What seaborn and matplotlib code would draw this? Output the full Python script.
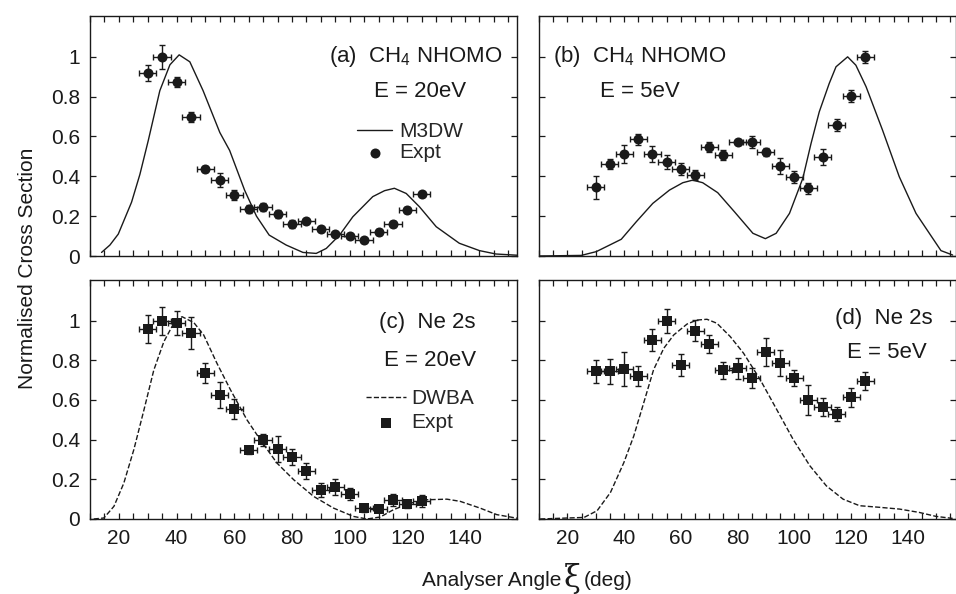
import numpy as np
import pandas as pd
import seaborn as sns
import matplotlib.pyplot as plt
from matplotlib.ticker import MultipleLocator, FixedLocator, FuncFormatter

# experimental angles (deg), common to all panels
angles = [30, 35, 40, 45, 50, 55, 60, 65, 70, 75, 80, 85, 90, 95, 100, 105, 110, 115, 120, 125]

# (a) CH4 NHOMO, E = 20 eV
a_expt = [0.92, 1.00, 0.872, 0.70, 0.435, 0.38, 0.306, 0.234, 0.247, 0.209,
          0.162, 0.174, 0.137, 0.112, 0.100, 0.080, 0.122, 0.160, 0.229, 0.313]
a_err = [0.04, 0.06, 0.025, 0.025, 0.015, 0.035, 0.025, 0.02, 0.02, 0.02,
         0.02, 0.01, 0.01, 0.01, 0.01, 0.01, 0.015, 0.015, 0.015, 0.01]
a_th_x = [14, 16.9, 19.8, 24.4, 27.3, 30.2, 34.2, 37.7, 40.9, 44.6, 49.2, 55, 58.4, 63.6, 67.7,
          72.1, 78, 83.8, 88.4, 91.9, 96.5, 101.1, 108, 112.1, 115.5, 119.6, 124.2, 130, 138,
          145, 150.7, 158]
a_th_y = [0.018, 0.055, 0.11, 0.27, 0.41, 0.58, 0.83, 0.96, 1.01, 0.975, 0.83, 0.62, 0.53, 0.33,
          0.20, 0.105, 0.055, 0.018, 0.013, 0.038, 0.105, 0.197, 0.298, 0.328, 0.34, 0.314,
          0.247, 0.147, 0.064, 0.027, 0.01, 0.004]

# (b) CH4 NHOMO, E = 5 eV
b_expt = [0.344, 0.46, 0.51, 0.585, 0.512, 0.47, 0.438, 0.406, 0.545, 0.505,
          0.574, 0.574, 0.523, 0.451, 0.398, 0.339, 0.495, 0.66, 0.804, 1.00]
b_err = [0.06, 0.025, 0.045, 0.03, 0.04, 0.035, 0.03, 0.025, 0.025, 0.025,
         0.01, 0.03, 0.02, 0.04, 0.03, 0.03, 0.04, 0.03, 0.03, 0.03]
b_th_x = [10, 24.9, 30.2, 34.9, 39, 44.3, 50.1, 56, 60.7, 64.2, 67.7, 73, 78.9, 85.4, 89.8,
          93.6, 98.3, 103, 105.9, 108.8, 112.3, 114.7, 118.8, 121.7, 125.3, 131.1, 137,
          142.9, 147.6, 151.7, 155.8]
b_th_y = [0.0, 0.003, 0.022, 0.055, 0.084, 0.172, 0.264, 0.331, 0.368, 0.381, 0.368, 0.318,
          0.222, 0.114, 0.087, 0.114, 0.214, 0.39, 0.565, 0.724, 0.866, 0.95, 1.0, 0.958,
          0.85, 0.632, 0.398, 0.214, 0.114, 0.027, 0.005]

# (c) Ne 2s, E = 20 eV
c_expt = [0.958, 1.00, 0.99, 0.936, 0.735, 0.626, 0.554, 0.346, 0.398, 0.352,
          0.314, 0.242, 0.148, 0.161, 0.128, 0.057, 0.049, 0.097, 0.076, 0.092]
c_err = [0.07, 0.07, 0.06, 0.08, 0.05, 0.065, 0.05, 0.02, 0.03, 0.065,
         0.04, 0.04, 0.035, 0.04, 0.03, 0.02, 0.01, 0.03, 0.02, 0.03]
c_th_x = [11.3, 14.8, 18.3, 21.7, 25.2, 28.7, 32.1, 35.6, 39.0, 41.9, 46, 49.4, 54, 58.7,
          64.4, 69, 74.8, 80.6, 87.5, 94.4, 101.3, 106, 110.6, 115.2, 121, 126.7, 133.7,
          138.3, 145.2, 151, 158]
c_th_y = [0.0, 0.005, 0.064, 0.18, 0.35, 0.55, 0.75, 0.894, 0.986, 1.02, 0.99, 0.928, 0.785,
          0.651, 0.5, 0.4, 0.282, 0.198, 0.114, 0.055, 0.013, 0.0, 0.01, 0.047, 0.08, 0.097,
          0.1, 0.089, 0.055, 0.022, 0.004]

# (d) Ne 2s, E = 5 eV
d_expt = [0.744, 0.744, 0.757, 0.719, 0.903, 1.00, 0.778, 0.95, 0.883, 0.749,
          0.759, 0.709, 0.841, 0.786, 0.709, 0.600, 0.565, 0.530, 0.615, 0.697]
d_err = [0.06, 0.065, 0.085, 0.05, 0.055, 0.06, 0.055, 0.055, 0.045, 0.045,
         0.055, 0.05, 0.07, 0.065, 0.04, 0.075, 0.045, 0.035, 0.048, 0.045]
d_th_x = [10.4, 25.9, 30.5, 35.2, 39.9, 43.4, 46.9, 50.4, 54, 57.5, 62.2, 65.7, 69.2, 72.7,
          77.4, 82.1, 88, 93.8, 99.6, 105.5, 111.3, 117.2, 123, 130, 137.1, 144.1, 150,
          155.8]
d_th_y = [0.0, 0.008, 0.042, 0.134, 0.284, 0.418, 0.585, 0.753, 0.861, 0.928, 0.983, 1.003,
          1.007, 0.987, 0.92, 0.836, 0.702, 0.552, 0.401, 0.268, 0.167, 0.1, 0.067, 0.059,
          0.05, 0.033, 0.013, 0.003]

y_ticks = [0, 0.2, 0.4, 0.6, 0.8, 1.0]

sns.set_style("ticks")
plt.rcParams['font.family'] = ['Liberation Sans', 'DejaVu Sans']
plt.rcParams['mathtext.fontset'] = 'custom'
plt.rcParams['mathtext.rm'] = 'Liberation Sans'
plt.rcParams['mathtext.default'] = 'regular'

W, H = 956, 594
fig = plt.figure(figsize=(W / 100, H / 100), dpi=100)


def px_axes(l, t, r, b):
    return fig.add_axes([l / W, 1 - b / H, (r - l) / W, (b - t) / H])


ax_a = px_axes(90, 16, 517, 256)
ax_b = px_axes(539, 16, 956, 256)
ax_c = px_axes(90, 280, 517, 519)
ax_d = px_axes(539, 280, 956, 519)

ink = '#1a1a1a'
panels = [
    (ax_a, a_th_x, a_th_y, a_expt, a_err, 'o', '-', 'M3DW'),
    (ax_b, b_th_x, b_th_y, b_expt, b_err, 'o', '-', 'M3DW'),
    (ax_c, c_th_x, c_th_y, c_expt, c_err, 's', '--', 'DWBA'),
    (ax_d, d_th_x, d_th_y, d_expt, d_err, 's', '--', 'DWBA'),
]

for ax, tx, ty, ey, ee, mk, ls, thname in panels:
    sns.lineplot(x=tx, y=ty, ax=ax, color=ink, lw=1.0, linestyle=ls, label=thname,
                 dashes=(3, 3) if ls == '--' else None)
    ax.errorbar(angles, ey, xerr=3, yerr=ee, fmt='none', ecolor=ink, elinewidth=1.0,
                capsize=2.2, capthick=1.0, zorder=3)
    sns.scatterplot(x=angles, y=ey, ax=ax, marker=mk, s=52 if mk == 'o' else 46,
                    color=ink, edgecolor=ink, linewidth=0, zorder=4, label='Expt')
    ax.set_xlim(10, 158 if ax in (ax_a, ax_c) else 157)
    ax.set_ylim(0, 1.205)
    ax.xaxis.set_major_locator(MultipleLocator(20))
    ax.xaxis.set_minor_locator(MultipleLocator(5))
    ax.yaxis.set_major_locator(FixedLocator(y_ticks))
    ax.tick_params(which='both', direction='in', top=True, right=True, length=4,
                   width=0.9, labelsize=15, colors=ink, pad=7)
    ax.tick_params(which='minor', length=4)
    ax.yaxis.set_major_formatter(FuncFormatter(lambda v, p: f"{v:g}"))
    for sp in ax.spines.values():
        sp.set_color(ink)
        sp.set_linewidth(1.0)
    ax.get_legend().remove()

for ax in (ax_a, ax_b):
    ax.tick_params(labelbottom=False)
for ax in (ax_b, ax_d):
    ax.tick_params(labelleft=False)

# legends
ax_a.legend(loc='upper left', bbox_to_anchor=(357 / W, 1 - 122 / H),
            bbox_transform=fig.transFigure, frameon=False, fontsize=15,
            handlelength=1.7, handletextpad=0.35, labelspacing=0.1,
            borderpad=0, borderaxespad=0)
ax_c.legend(loc='upper left', bbox_to_anchor=(366 / W, 1 - 389 / H),
            bbox_transform=fig.transFigure, frameon=False, fontsize=15,
            handlelength=1.9, handletextpad=0.25, labelspacing=0.25,
            borderpad=0, borderaxespad=0)

# panel annotations
txt = dict(fontsize=16, color=ink, va='center', ha='left')
ax_a.text(92.7, 1.0, '(a)  CH$_4$ NHOMO', **txt)
ax_a.text(108.6, 0.825, 'E = 20eV', **txt)
ax_b.text(14.9, 1.0, '(b)  CH$_4$ NHOMO', **txt)
ax_b.text(31.5, 0.825, 'E = 5eV', **txt)
ax_c.text(110.3, 0.99, '(c)  Ne 2s', **txt)
ax_c.text(112, 0.80, 'E = 20eV', **txt)
ax_d.text(114.2, 1.01, '(d)  Ne 2s', **txt)
ax_d.text(118.4, 0.84, 'E = 5eV', **txt)

# axis titles
fig.text(28 / W, 1 - 268 / H, 'Normalised Cross Section', rotation=90,
         ha='center', va='center', fontsize=15, color=ink)
fig.text(422 / W, 1 - 580 / H, 'Analyser Angle', ha='left', va='center',
         fontsize=15, color=ink)
fig.text(572 / W, 1 - 578 / H, 'ξ', ha='center', va='center', fontsize=22,
         color=ink, family=['DejaVu Serif', 'DejaVu Sans'])
fig.text(584 / W, 1 - 580 / H, '(deg)', ha='left', va='center',
         fontsize=15, color=ink)

fig.savefig('out.png', dpi=100)
